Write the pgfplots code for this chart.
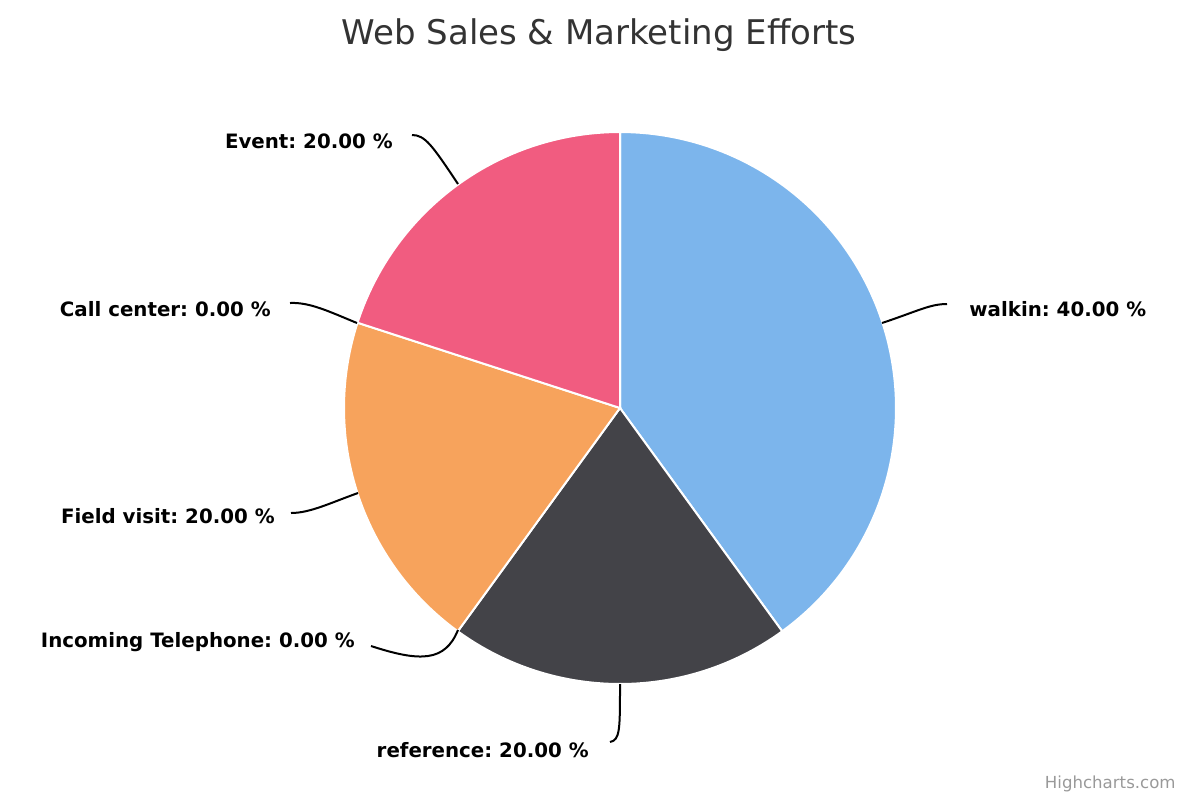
\documentclass[border=0pt]{standalone}
\usepackage{pgfplots}
\pgfplotsset{compat=1.18}
\usepackage{pgfplotstable}
\usepackage{fontspec}
\setmainfont{DejaVu Sans}
\frenchspacing
\definecolor{cwalk}{HTML}{7CB5EC}
\definecolor{cref}{HTML}{434348}
\definecolor{cinc}{HTML}{90ED7D}
\definecolor{cfield}{HTML}{F7A35C}
\definecolor{ccall}{HTML}{8085E9}
\definecolor{cevent}{HTML}{F15C80}
\definecolor{ctitle}{HTML}{333333}
\definecolor{ccredit}{HTML}{999999}
% share of each category in percent; start = cumulative share before it
\pgfplotstableread{
name       start value
walkin     0     40
reference  40    20
Incoming   60    0
Field      60    20
Call       80    0
Event      80    20
}\piedata
% pie centre and radius in pixel units
\def\cx{620}\def\cy{408}\def\rr{276}
\newcommand\slice[3]{%
  \pgfmathsetmacro\tA{90-3.6*(#1+#2)}%
  \pgfmathsetmacro\tB{90-3.6*#1}%
  \addplot[fill=#3, draw=white, line width=1pt, domain=\tA:\tB, samples=120, variable=\t]
    ({\cx+\rr*cos(\t)},{\cy-\rr*sin(\t)}) -- (axis cs:\cx,\cy) -- cycle;
}
\begin{document}
\begin{tikzpicture}
\useasboundingbox (0,0) rectangle (600pt,400pt);
\begin{axis}[
  at={(0,0)}, anchor=south west,
  scale only axis, width=600pt, height=400pt,
  xmin=0, xmax=1200, ymin=0, ymax=800, y dir=reverse,
  hide axis, clip=false,
]
\slice{0}{40}{cwalk}
\slice{40}{20}{cref}
\slice{60}{20}{cfield}
\slice{80}{20}{cevent}
% connectors
\draw[black, line width=1pt] (axis cs:882,323) .. controls (axis cs:918,311) and (axis cs:930,304) .. (axis cs:947,304);
\draw[black, line width=1pt] (axis cs:412,135) .. controls (axis cs:425,135) and (axis cs:432,145) .. (axis cs:458,184);
\draw[black, line width=1pt] (axis cs:290,303) .. controls (axis cs:310,302) and (axis cs:330,312) .. (axis cs:357,323);
\draw[black, line width=1pt] (axis cs:291,513) .. controls (axis cs:310,513) and (axis cs:330,503) .. (axis cs:358,493);
\draw[black, line width=1pt] (axis cs:371,646) .. controls (axis cs:420,662) and (axis cs:445,662) .. (axis cs:458,630);
\draw[black, line width=1pt] (axis cs:610,742) .. controls (axis cs:620,740) and (axis cs:620,730) .. (axis cs:620,684);
% labels
\begin{scope}[every node/.style={inner sep=0pt, font=\fontsize{9.9}{12}\selectfont\bfseries}]
\node[anchor=base west] at (axis cs:969,316) {walkin: 40.00 \%};
\node[anchor=base east] at (axis cs:393,148) {Event: 20.00 \%};
\node[anchor=base east] at (axis cs:271,316) {Call center: 0.00 \%};
\node[anchor=base east] at (axis cs:275,523) {Field visit: 20.00 \%};
\node[anchor=base east] at (axis cs:355,647) {Incoming Telephone: 0.00 \%};
\node[anchor=base east] at (axis cs:589,757) {reference: 20.00 \%};
\end{scope}
\node[anchor=base, inner sep=0pt, text=ctitle, font=\fontsize{17}{20}\selectfont] at (axis cs:599,44) {Web Sales \& Marketing Efforts};
\node[anchor=base east, inner sep=0pt, text=ccredit, font=\fontsize{8.3}{10}\selectfont] at (axis cs:1176,788) {Highcharts.com};
\end{axis}
\end{tikzpicture}
\end{document}
